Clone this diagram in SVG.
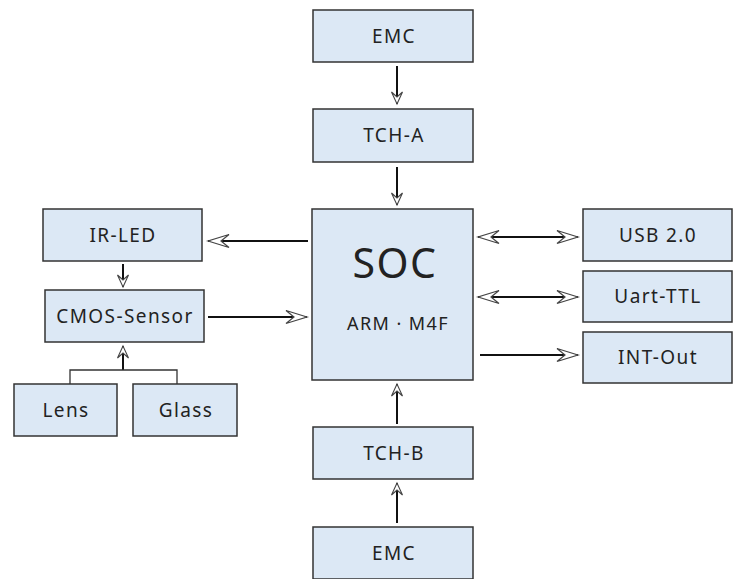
<svg xmlns="http://www.w3.org/2000/svg" width="733" height="579" viewBox="0 0 733 579">
<defs>
<style>
.box{fill:#dce8f5;stroke:#333333;stroke-width:1.5}
.t{font-family:"Noto Sans","DejaVu Sans",sans-serif;font-size:19px;fill:#222222;text-anchor:middle;letter-spacing:1.4px}
.ln{stroke:#111111;stroke-width:2;fill:none}
.thin{stroke:#333;stroke-width:1.3;fill:none}
</style>
<marker id="ah" markerUnits="userSpaceOnUse" markerWidth="26" markerHeight="16" viewBox="-22 -8 24 16" refX="0" refY="0" orient="auto-start-reverse" overflow="visible">
<path d="M0,0 L-21,-6.5 L-13,0 L-21,6.5 Z" fill="#ffffff" stroke="#444" stroke-width="1.2" stroke-linejoin="miter"/>
</marker>
<marker id="ahs" markerUnits="userSpaceOnUse" markerWidth="16" markerHeight="14" viewBox="-14 -7 16 14" refX="0" refY="0" orient="auto" overflow="visible">
<path d="M0,0 L-12,-5.5 L-7,0 L-12,5.5 Z" fill="#ffffff" stroke="#444" stroke-width="1.1"/>
</marker>
</defs>
<rect width="733" height="579" fill="#ffffff"/>
<g id="connectors">
<line class="ln" x1="397" y1="66" x2="397" y2="104" marker-end="url(#ahs)"/>
<line class="ln" x1="397" y1="167" x2="397" y2="205" marker-end="url(#ahs)"/>
<line class="ln" x1="397" y1="424" x2="397" y2="384" marker-end="url(#ahs)"/>
<line class="ln" x1="397" y1="523" x2="397" y2="483" marker-end="url(#ahs)"/>
<line class="ln" x1="308" y1="241" x2="208" y2="241" marker-end="url(#ah)"/>
<line class="ln" x1="208" y1="317" x2="307" y2="317" marker-end="url(#ah)"/>
<line class="ln" x1="123" y1="264" x2="123" y2="287" marker-end="url(#ahs)"/>
<line class="ln" x1="123" y1="370" x2="123" y2="346" marker-end="url(#ahs)"/>
<polyline class="thin" points="70,384 70,370 177,370 177,384"/>
<line class="ln" x1="478" y1="237" x2="578" y2="237" marker-start="url(#ah)" marker-end="url(#ah)"/>
<line class="ln" x1="478" y1="297" x2="578" y2="297" marker-start="url(#ah)" marker-end="url(#ah)"/>
<line class="ln" x1="480" y1="355" x2="578" y2="355" marker-end="url(#ah)"/>
</g>
<g id="emc-top"><rect class="box" x="313" y="10" width="160" height="52"/><text class="t" x="394" y="43">EMC</text></g>
<g id="tch-a"><rect class="box" x="313" y="109" width="160" height="53"/><text class="t" x="394" y="142">TCH-A</text></g>
<g id="soc"><rect class="box" x="312" y="209" width="161" height="171"/>
<text class="t" x="395" y="278" style="font-size:41px;letter-spacing:1.5px">SOC</text>
<text class="t" x="398" y="330" style="font-size:18px">ARM · M4F</text></g>
<g id="tch-b"><rect class="box" x="313" y="427" width="160" height="52"/><text class="t" x="394" y="460">TCH-B</text></g>
<g id="emc-bottom"><rect class="box" x="313" y="527" width="160" height="52"/><text class="t" x="394" y="560">EMC</text></g>
<g id="ir-led"><rect class="box" x="43" y="209" width="159" height="52"/><text class="t" x="123" y="242">IR-LED</text></g>
<g id="cmos"><rect class="box" x="45" y="290" width="159" height="52"/><text class="t" x="125" y="323">CMOS-Sensor</text></g>
<g id="lens"><rect class="box" x="14" y="384" width="103" height="52"/><text class="t" x="66" y="417">Lens</text></g>
<g id="glass"><rect class="box" x="133" y="384" width="104" height="52"/><text class="t" x="186" y="417">Glass</text></g>
<g id="usb"><rect class="box" x="583" y="209" width="149" height="52"/><text class="t" x="658" y="242">USB 2.0</text></g>
<g id="uart"><rect class="box" x="583" y="271" width="149" height="51"/><text class="t" x="658" y="303">Uart-TTL</text></g>
<g id="int-out"><rect class="box" x="583" y="332" width="149" height="51"/><text class="t" x="658" y="364">INT-Out</text></g>
</svg>
